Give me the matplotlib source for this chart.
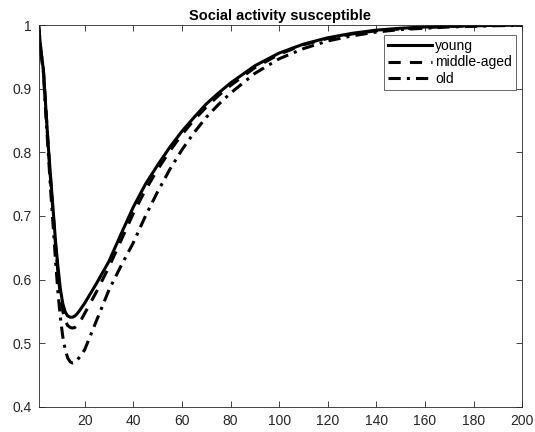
import matplotlib
matplotlib.use("Agg")
import matplotlib.pyplot as plt

plt.rcParams['font.family'] = ['Liberation Sans', 'DejaVu Sans']

# time points (days)
t = [1, 2, 3, 4, 5, 6, 7, 8, 9, 10, 11, 12, 13, 14, 15, 16, 17, 18, 20, 25,
     30, 35, 40, 45, 50, 55, 60, 65, 70, 75, 80, 90, 100, 110, 120, 130, 140,
     150, 160, 170, 180, 190, 200]

young = [1.0, 0.96, 0.93, 0.87, 0.81, 0.76, 0.71, 0.66, 0.62, 0.585, 0.562,
         0.549, 0.543, 0.541, 0.541, 0.543, 0.547, 0.552, 0.563, 0.595,
         0.629, 0.672, 0.714, 0.750, 0.780, 0.808, 0.833, 0.855, 0.876, 0.893,
         0.909, 0.936, 0.956, 0.970, 0.980, 0.987, 0.992, 0.995, 0.997, 0.998,
         0.999, 0.9995, 1.0]

middle = [1.0, 0.96, 0.93, 0.87, 0.81, 0.755, 0.705, 0.655, 0.61, 0.575,
          0.55, 0.535, 0.528, 0.525, 0.524, 0.525, 0.528, 0.533, 0.547, 0.582,
          0.620, 0.662, 0.704, 0.741, 0.773, 0.802, 0.828, 0.851, 0.871, 0.889,
          0.905, 0.933, 0.954, 0.969, 0.979, 0.986, 0.991, 0.994, 0.996, 0.998,
          0.999, 0.9995, 1.0]

old = [1.0, 0.955, 0.925, 0.86, 0.80, 0.74, 0.685, 0.63, 0.58, 0.54, 0.51,
       0.49, 0.477, 0.471, 0.469, 0.470, 0.474, 0.479, 0.490, 0.537,
       0.584, 0.622, 0.658, 0.700, 0.738, 0.773, 0.804, 0.831, 0.855, 0.875,
       0.893, 0.924, 0.947, 0.963, 0.975, 0.983, 0.989, 0.993, 0.995, 0.997,
       0.998, 0.999, 0.9995]

xticks = [20, 40, 60, 80, 100, 120, 140, 160, 180, 200]
yticks = [0.4, 0.5, 0.6, 0.7, 0.8, 0.9, 1.0]
ylabels = ['0.4', '0.5', '0.6', '0.7', '0.8', '0.9', '1']

fig = plt.figure(figsize=(5.35, 4.32), dpi=100)
ax = fig.add_axes([0.072, 0.058, 0.904, 0.884])

ax.plot(t, young, color='black', lw=2.2, linestyle='-', label='young')
ax.plot(t, middle, color='black', lw=2.2, linestyle=(0, (4, 3)), label='middle-aged')
ax.plot(t, old, color='black', lw=2.2, linestyle=(0, (4, 2, 1, 2)), label='old')

ax.set_xlim(1, 200)
ax.set_ylim(0.4, 1.0)
ax.set_xticks(xticks)
ax.set_yticks(yticks)
ax.set_yticklabels(ylabels)
ax.tick_params(direction='in', top=True, right=True, length=4, width=0.6,
               colors='#262626', labelsize=10, pad=5)
for s in ax.spines.values():
    s.set_linewidth(0.6)
    s.set_color('#262626')

ax.set_title('Social activity susceptible', fontsize=10.5, fontweight='bold', pad=4)

leg = ax.legend(loc='upper right', fontsize=10, frameon=True, fancybox=False,
                edgecolor='#262626', handlelength=3.2, borderaxespad=0.4,
                labelspacing=0.15, handletextpad=0.2, borderpad=0.3,
                bbox_to_anchor=(0.999, 0.988))
leg.get_frame().set_linewidth(0.6)

plt.savefig('out.png', dpi=100)
plt.close()
